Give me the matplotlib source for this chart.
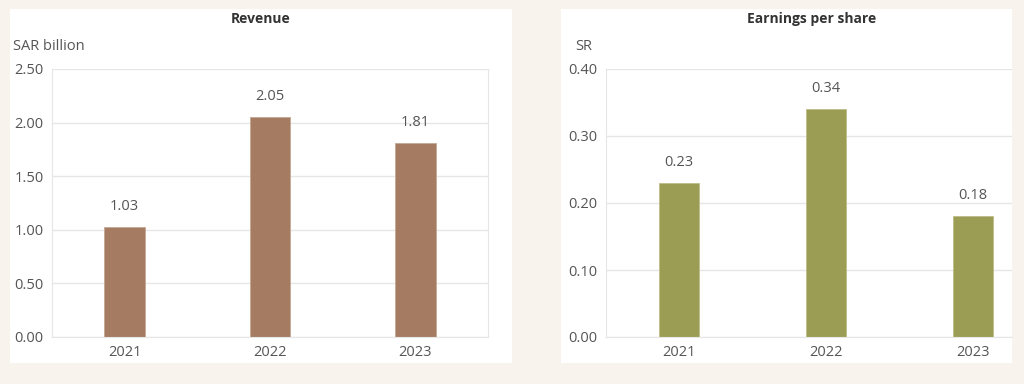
import matplotlib.pyplot as plt
from matplotlib.patches import Rectangle

# data
years = ['2021', '2022', '2023']
revenue = [1.03, 2.05, 1.81]
eps = [0.23, 0.34, 0.18]

plt.rcParams['font.family'] = ['Open Sans', 'DejaVu Sans']

bg = '#f8f3ec'
grid_c = '#e6e6e6'
txt_c = '#555555'

fig = plt.figure(figsize=(10.24, 3.84), dpi=100, facecolor=bg)

# white panels behind each chart
for x0, w in [(10, 502), (561, 451)]:
    fig.patches.append(Rectangle((x0 / 1024, 1 - 363 / 384), w / 1024, 354 / 384,
                                 transform=fig.transFigure, facecolor='white',
                                 edgecolor='none', zorder=-10))

ax1 = fig.add_axes([52 / 1024, 1 - 337 / 384, 436 / 1024, 268 / 384])
ax2 = fig.add_axes([605.5 / 1024, 1 - 337 / 384, 406.5 / 1024, 268 / 384])


def style(ax, ymax, step, right_spine=True):
    ax.set_facecolor('none')
    ax.set_ylim(0, ymax)
    ax.set_yticks([i * step for i in range(int(round(ymax / step)) + 1)])
    ax.yaxis.set_major_formatter(plt.FormatStrFormatter('%.2f'))
    ax.grid(axis='y', color=grid_c, linewidth=1)
    ax.set_axisbelow(True)
    ax.spines['top'].set_visible(False)
    ax.spines['right'].set_visible(right_spine)
    for s in ['left', 'right', 'bottom']:
        ax.spines[s].set_color(grid_c)
    ax.tick_params(length=0, labelsize=10.5, colors=txt_c, pad=6)


# revenue
ax1.bar(years, revenue, width=0.28, color='#a57c62', edgecolor='#c4a894', linewidth=0.6)
ax1.set_xlim(-0.5, 2.5)
style(ax1, 2.5, 0.5)
for i, v in enumerate(revenue):
    ax1.annotate(f'{v:.2f}', (i, v), xytext=(0, 13), textcoords='offset pixels',
                 ha='center', va='bottom', fontsize=10.5, color=txt_c)

# earnings per share
ax2.bar(years, eps, width=0.277, color='#9c9d55', edgecolor='#bdbd88', linewidth=0.6)
ax2.set_xlim(-0.5, 2.265)
style(ax2, 0.4, 0.1, right_spine=False)
for i, v in enumerate(eps):
    ax2.annotate(f'{v:.2f}', (i, v), xytext=(0, 13), textcoords='offset pixels',
                 ha='center', va='bottom', fontsize=10.5, color=txt_c)

fig.text(261 / 1024, 1 - 19 / 384, 'Revenue', ha='center', va='center',
         fontsize=10, fontweight='bold', color='#333333')
fig.text(812 / 1024, 1 - 19 / 384, 'Earnings per share', ha='center', va='center',
         fontsize=10, fontweight='bold', color='#333333')
fig.text(13 / 1024, 1 - 46 / 384, 'SAR billion', ha='left', va='center',
         fontsize=10.5, color=txt_c)
fig.text(575 / 1024, 1 - 46 / 384, 'SR', ha='left', va='center',
         fontsize=10.5, color=txt_c)

fig.savefig('out.png', dpi=100, facecolor=bg)
